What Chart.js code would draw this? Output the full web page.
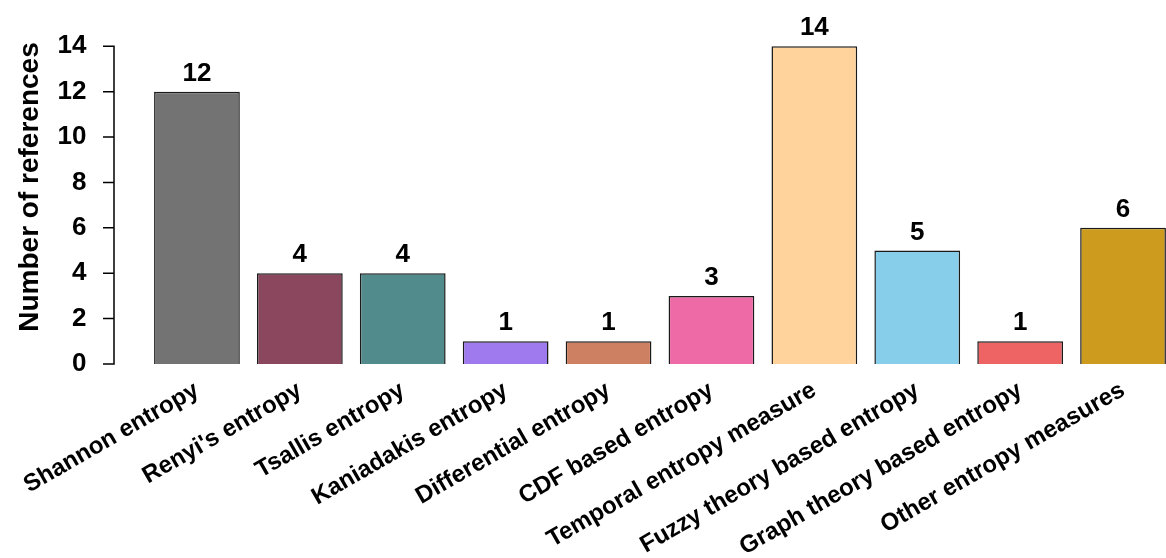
<!DOCTYPE html>
<html>
<head>
<meta charset="utf-8">
<script src="https://cdn.jsdelivr.net/npm/chart.js@4.4.1/dist/chart.umd.min.js"></script>
<style>
  html, body { margin: 0; padding: 0; background: #fff; overflow: hidden; }
  #wrap { width: 1180px; height: 558px; }
</style>
</head>
<body>
<div id="wrap"><canvas id="chart" width="1180" height="558"></canvas></div>
<script>
// Data
const categories = [
    'Shannon entropy', "Renyi's entropy", 'Tsallis entropy', 'Kaniadakis entropy',
    'Differential entropy', 'CDF based entropy', 'Temporal entropy measure',
    'Fuzzy theory based entropy', 'Graph theory based entropy', 'Other entropy measures'
];
const references = [12, 4, 4, 1, 1, 3, 14, 5, 1, 6];
const barColors = [
    '#737373', '#8B475D', '#528B8B', '#9F79EE', '#CD8162',
    '#EE6AA7', '#FFD39B', '#87CEEB', '#EE6363', '#CD9B1D'
];
const yTicks = [0, 2, 4, 6, 8, 10, 12, 14];

const FONT = '"Liberation Sans", Arial, Helvetica, sans-serif';

// R-style y axis: line from 0 to 14, set apart from the bars
const rAxis = {
    id: 'rAxis',
    afterDraw(chart) {
        const ctx = chart.ctx;
        const y = chart.scales.y;
        const x0 = 114;
        ctx.save();
        ctx.strokeStyle = '#000';
        ctx.lineWidth = 1.5;
        ctx.beginPath();
        ctx.moveTo(x0, y.getPixelForValue(yTicks[0]));
        ctx.lineTo(x0, y.getPixelForValue(yTicks[yTicks.length - 1]));
        yTicks.forEach(v => {
            const py = y.getPixelForValue(v);
            ctx.moveTo(x0 + 0.75, py);
            ctx.lineTo(x0 - 11, py);
        });
        ctx.stroke();
        ctx.restore();
    }
};

// value labels above bars
const barValues = {
    id: 'barValues',
    afterDatasetsDraw(chart) {
        const ctx = chart.ctx;
        const meta = chart.getDatasetMeta(0);
        ctx.save();
        ctx.font = 'bold 26px ' + FONT;
        ctx.fillStyle = '#000';
        ctx.textAlign = 'center';
        ctx.textBaseline = 'alphabetic';
        meta.data.forEach((bar, i) => {
            ctx.fillText(String(references[i]), bar.x, bar.y - 11);
        });
        ctx.restore();
    }
};

new Chart(document.getElementById('chart'), {
    type: 'bar',
    data: {
        labels: categories,
        datasets: [{
            data: references,
            backgroundColor: barColors,
            borderColor: '#1a1a1a',
            borderWidth: 1.5,
            categoryPercentage: 1,
            barPercentage: 1 / 1.2
        }]
    },
    options: {
        responsive: false,
        animation: false,
        devicePixelRatio: 1,
        layout: { padding: { top: 10, right: 5.5, left: 0, bottom: 0 } },
        plugins: {
            legend: { display: false },
            tooltip: { enabled: false }
        },
        scales: {
            x: {
                grid: { display: false },
                border: { display: false },
                afterFit: (s) => { s.height = 194; },
                ticks: {
                    autoSkip: false,
                    maxRotation: 30,
                    minRotation: 30,
                    padding: 4,
                    color: '#000',
                    font: { family: FONT, size: 24, weight: 'bold' }
                }
            },
            y: {
                min: 0,
                max: 15.6,
                afterFit: (s) => {
                    s.width = 145.5;
                    s.paddingTop = 0;
                    s.paddingBottom = 0;
                },
                afterBuildTicks: (s) => { s.ticks = yTicks.map(v => ({ value: v })); },
                grid: { display: false, drawTicks: false },
                border: { display: false },
                ticks: {
                    padding: 59,
                    color: '#000',
                    font: { family: FONT, size: 26, weight: 'bold' }
                },
                title: {
                    display: true,
                    text: 'Number of references',
                    color: '#000',
                    padding: { top: 13, bottom: 0 },
                    font: { family: FONT, size: 28, weight: 'bold' }
                }
            }
        }
    },
    plugins: [rAxis, barValues]
});
</script>
</body>
</html>
